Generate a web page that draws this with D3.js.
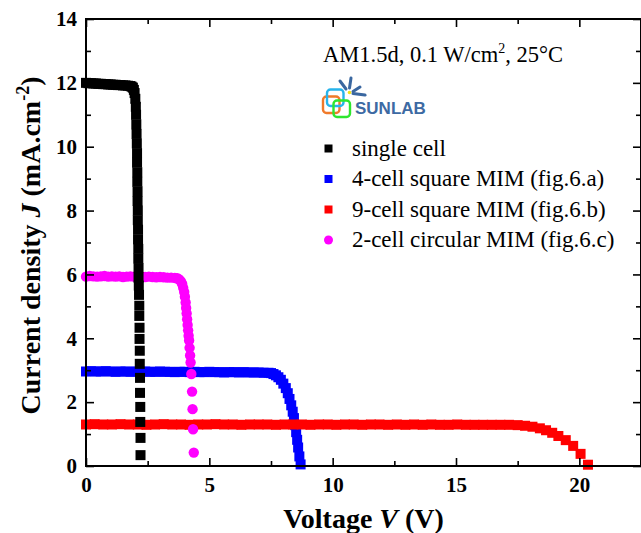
<!DOCTYPE html>
<html>
<head>
<meta charset="utf-8">
<script src="https://cdn.jsdelivr.net/npm/d3@7"></script>
<style>
  html, body { margin: 0; padding: 0; background: #fff; overflow: hidden; }
  .tick line { stroke: #000; stroke-width: 1.6; }
  .domain { display: none; }
</style>
</head>
<body>
<div id="chart"></div>
<script>
// axis ticks
const xMajor = [0, 5, 10, 15, 20];
const xMinor = [2.5, 7.5, 12.5, 17.5];
const yMajor = [0, 2, 4, 6, 8, 10, 12, 14];
const yMinor = [1, 3, 5, 7, 9, 11, 13];

// single cell (black squares)
const singleV = [0, 0.1, 0.2, 0.3, 0.4, 0.5, 0.6, 0.7, 0.8, 0.9, 1.0, 1.1, 1.2, 1.3, 1.4, 1.5, 1.6, 1.7, 1.8,
    1.85, 1.9, 1.94, 1.97, 2.0, 2.02, 2.03, 2.04, 2.05, 2.06, 2.07, 2.07, 2.08, 2.08, 2.09, 2.09, 2.1, 2.1, 2.11, 2.11,
    2.12, 2.12, 2.13, 2.13, 2.14,
    2.15, 2.16, 2.16, 2.17, 2.17, 2.18, 2.18, 2.19, 2.19, 2.2, 2.2, 2.21, 2.21];
const singleJ = [12.0, 11.99, 11.99, 11.98, 11.98, 11.97, 11.97, 11.96, 11.96, 11.95, 11.95, 11.94, 11.94, 11.93, 11.93, 11.92, 11.92, 11.91, 11.9,
    11.88, 11.85, 11.78, 11.68, 11.5, 11.25, 11.0, 10.7, 10.4, 10.1, 9.8, 9.5, 9.2, 8.9, 8.6, 8.3, 8.0, 7.7, 7.4, 7.1,
    6.8, 6.5, 6.2, 5.9, 5.65,
    5.36, 5.02, 4.7, 4.33, 3.98, 3.61, 3.2, 2.76, 2.29, 1.85, 1.38, 0.88, 0.34];

// 4-cell square MIM (blue squares)
const sq4V = [0, 0.2, 0.4, 0.6, 0.8, 1.0, 1.2, 1.4, 1.6, 1.8, 2.0, 2.2, 2.4, 2.6, 2.8, 3.0, 3.2, 3.4, 3.6,
    3.8, 4.0, 4.2, 4.4, 4.6, 4.8, 5.0, 5.2, 5.4, 5.6, 5.8, 6.0, 6.2, 6.4, 6.6, 6.8, 7.0, 7.2, 7.4,
    7.5, 7.6, 7.7, 7.8, 7.9, 8.0, 8.1, 8.18, 8.25, 8.32, 8.38, 8.43, 8.48, 8.52, 8.56, 8.6, 8.65, 8.7];
const sq4J = [2.96, 2.97, 2.96, 2.96, 2.97, 2.96, 2.95, 2.96, 2.96, 2.95, 2.96, 2.95, 2.96, 2.95, 2.95, 2.96, 2.95, 2.95, 2.94,
    2.95, 2.95, 2.94, 2.95, 2.94, 2.94, 2.95, 2.94, 2.94, 2.93, 2.94, 2.94, 2.93, 2.94, 2.93, 2.93, 2.93, 2.92, 2.92,
    2.91, 2.88, 2.84, 2.78, 2.7, 2.58, 2.44, 2.28, 2.1, 1.9, 1.7, 1.5, 1.28, 1.06, 0.82, 0.58, 0.3, 0.05];

// 9-cell square MIM (red squares)
const sq9V = [0, 0.35, 0.7, 1.05, 1.4, 1.75, 2.1, 2.45, 2.8, 3.15, 3.5, 3.85, 4.2, 4.55, 4.9, 5.25, 5.6, 5.95,
    6.3, 6.65, 7.0, 7.35, 7.7, 8.05, 8.4, 8.75, 9.1, 9.45, 9.8, 10.15, 10.5, 10.85, 11.2, 11.55, 11.9, 12.25,
    12.6, 12.95, 13.3, 13.65, 14.0, 14.35, 14.7, 15.05, 15.4, 15.75, 16.1, 16.45, 16.8,
    17.15, 17.5, 17.8, 18.1, 18.4, 18.65, 18.9, 19.15, 19.45, 19.75, 20.05, 20.35];
const sq9J = [1.3, 1.31, 1.3, 1.3, 1.31, 1.3, 1.3, 1.29, 1.3, 1.31, 1.3, 1.3, 1.29, 1.3, 1.3, 1.31, 1.3, 1.3,
    1.29, 1.3, 1.3, 1.3, 1.29, 1.3, 1.3, 1.3, 1.29, 1.3, 1.3, 1.29, 1.3, 1.3, 1.29, 1.3, 1.3, 1.29,
    1.3, 1.29, 1.3, 1.29, 1.3, 1.29, 1.29, 1.3, 1.29, 1.29, 1.29, 1.29, 1.29,
    1.29, 1.28, 1.26, 1.23, 1.18, 1.12, 1.04, 0.94, 0.81, 0.63, 0.38, 0.04];

// 2-cell circular MIM (magenta circles)
const circV = [0, 0.15, 0.3, 0.45, 0.6, 0.75, 0.9, 1.05, 1.2, 1.35, 1.5, 1.65, 1.8, 1.95, 2.1, 2.25, 2.4, 2.55,
    2.7, 2.85, 3.0, 3.15, 3.3, 3.45, 3.6,
    3.7, 3.78, 3.85, 3.9, 3.94, 3.98, 4.01, 4.04, 4.06, 4.08, 4.1, 4.12, 4.14, 4.16, 4.18, 4.2, 4.22, 4.24,
    4.27, 4.3, 4.32, 4.34, 4.37];
const circJ = [5.93, 5.95, 5.94, 5.93, 5.94, 5.95, 5.93, 5.94, 5.93, 5.94, 5.92, 5.93, 5.94, 5.93, 5.92, 5.93, 5.92, 5.93,
    5.92, 5.91, 5.92, 5.91, 5.9, 5.9, 5.89,
    5.88, 5.84, 5.78, 5.7, 5.58, 5.45, 5.3, 5.12, 4.95, 4.78, 4.6, 4.42, 4.25, 4.08, 3.93, 3.7, 3.46, 3.24,
    2.88, 2.33, 1.78, 1.15, 0.42];

// legend
const legendLabels = ['single cell', '4-cell square MIM (fig.6.a)', '9-cell square MIM (fig.6.b)', '2-cell circular MIM (fig.6.c)'];
const legendColors = ['#000000', '#0000ff', '#ff0000', '#ff00ff'];
const legendShapes = ['square', 'square', 'square', 'circle'];

const width = 641;
const height = 533;
const plot = { left: 86, top: 19, right: 641, bottom: 466 };
const serif = '"Liberation Serif", "Times New Roman", serif';

const svg = d3.select('#chart').append('svg')
    .attr('width', width)
    .attr('height', height);

const xScale = d3.scaleLinear().domain([0, 22.5]).range([plot.left, plot.right]);
const yScale = d3.scaleLinear().domain([0, 14]).range([plot.bottom, plot.top]);

// series, drawn back to front
const zip = (vs, js) => vs.map((v, i) => ({ v: v, j: js[i] }));
const sqSize = 10;

function drawSquares(data, color) {
    svg.append('g').selectAll('rect')
        .data(data)
        .enter()
        .append('rect')
        .attr('x', dp => xScale(dp.v) - sqSize / 2)
        .attr('y', dp => yScale(dp.j) - sqSize / 2)
        .attr('width', sqSize)
        .attr('height', sqSize)
        .attr('fill', color);
}

drawSquares(zip(sq4V, sq4J), '#0000ff');
drawSquares(zip(sq9V, sq9J), '#ff0000');

svg.append('g').selectAll('circle')
    .data(zip(circV, circJ))
    .enter()
    .append('circle')
    .attr('cx', dp => xScale(dp.v))
    .attr('cy', dp => yScale(dp.j))
    .attr('r', 5.2)
    .attr('fill', '#ff00ff');

drawSquares(zip(singleV, singleJ), '#000000');

// axes: ticks point inward on all four sides
function styleTicks(g) {
    g.selectAll('.tick text')
        .style('font-family', serif)
        .style('font-weight', 'bold')
        .style('font-size', '21px')
        .style('fill', '#000');
}

svg.append('g')
    .attr('transform', `translate(0, ${plot.bottom})`)
    .call(d3.axisBottom(xScale).tickValues(xMajor).tickSizeInner(-8).tickSizeOuter(0).tickPadding(11))
    .call(styleTicks);
svg.append('g')
    .attr('transform', `translate(0, ${plot.bottom})`)
    .call(d3.axisBottom(xScale).tickValues(xMinor).tickSizeInner(-5).tickSizeOuter(0).tickFormat(''));
svg.append('g')
    .attr('transform', `translate(0, ${plot.top})`)
    .call(d3.axisTop(xScale).tickValues(xMajor).tickSizeInner(-8).tickSizeOuter(0).tickFormat(''));
svg.append('g')
    .attr('transform', `translate(0, ${plot.top})`)
    .call(d3.axisTop(xScale).tickValues(xMinor).tickSizeInner(-5).tickSizeOuter(0).tickFormat(''));

svg.append('g')
    .attr('transform', `translate(${plot.left}, 0)`)
    .call(d3.axisLeft(yScale).tickValues(yMajor).tickSizeInner(-8).tickSizeOuter(0).tickPadding(9))
    .call(styleTicks);
svg.append('g')
    .attr('transform', `translate(${plot.left}, 0)`)
    .call(d3.axisLeft(yScale).tickValues(yMinor).tickSizeInner(-5).tickSizeOuter(0).tickFormat(''));
svg.append('g')
    .attr('transform', `translate(${plot.right}, 0)`)
    .call(d3.axisRight(yScale).tickValues(yMajor).tickSizeInner(-8).tickSizeOuter(0).tickFormat(''));
svg.append('g')
    .attr('transform', `translate(${plot.right}, 0)`)
    .call(d3.axisRight(yScale).tickValues(yMinor).tickSizeInner(-5).tickSizeOuter(0).tickFormat(''));

svg.append('rect')
    .attr('x', plot.left)
    .attr('y', plot.top)
    .attr('width', plot.right - plot.left)
    .attr('height', plot.bottom - plot.top)
    .attr('fill', 'none')
    .attr('stroke', '#000')
    .attr('stroke-width', 2);

// axis titles
const xTitle = svg.append('text')
    .attr('x', (plot.left + plot.right) / 2)
    .attr('y', 528)
    .attr('text-anchor', 'middle')
    .style('font-family', serif)
    .style('font-weight', 'bold')
    .style('font-size', '28px');
xTitle.append('tspan').text('Voltage ');
xTitle.append('tspan').style('font-style', 'italic').text('V');
xTitle.append('tspan').text(' (V)');

const yTitle = svg.append('text')
    .attr('transform', `translate(40, ${(plot.top + plot.bottom) / 2 + 3}) rotate(-90)`)
    .attr('text-anchor', 'middle')
    .style('font-family', serif)
    .style('font-weight', 'bold')
    .style('font-size', '28px');
yTitle.append('tspan').text('Current density ');
yTitle.append('tspan').style('font-style', 'italic').text('J');
yTitle.append('tspan').text(' (mA.cm');
yTitle.append('tspan').attr('dy', -11).style('font-size', '18px').text('-2');
yTitle.append('tspan').attr('dy', 11).text(')');

// conditions note
const note = svg.append('text')
    .attr('x', 323)
    .attr('y', 62)
    .style('font-family', serif)
    .style('font-size', '22.5px');
note.append('tspan').text('AM1.5d, 0.1 W/cm');
note.append('tspan').attr('dy', -9).style('font-size', '14px').text('2');
note.append('tspan').attr('dy', 9).text(', 25°C');

// SUNLAB logo
const logo = svg.append('g');
[[340, 81, 346, 89], [351, 78, 349.5, 88], [353, 91.5, 360, 87], [353, 93.5, 365, 95]].forEach(r => {
    logo.append('line')
        .attr('x1', r[0]).attr('y1', r[1]).attr('x2', r[2]).attr('y2', r[3])
        .attr('stroke', '#3a67a0').attr('stroke-width', 3).attr('stroke-linecap', 'round');
});
logo.append('circle').attr('cx', 349.5).attr('cy', 92.5).attr('r', 1.8).attr('fill', '#f2e21a');
[[323, 96.5, '#f07a2a'], [327, 89.5, '#27b4ec'], [333.5, 100.5, '#2ee62e']].forEach(s => {
    logo.append('rect')
        .attr('x', s[0]).attr('y', s[1]).attr('width', 16.5).attr('height', 16.5)
        .attr('rx', 3.5)
        .attr('fill', 'none').attr('stroke', s[2]).attr('stroke-width', 2.4);
});
logo.append('text')
    .attr('x', 355)
    .attr('y', 113.5)
    .style('font-family', '"Liberation Sans", Arial, sans-serif')
    .style('font-weight', 'bold')
    .style('font-size', '17px')
    .style('fill', '#3d6aa3')
    .text('SUNLAB');

// legend
const legend = svg.append('g');
legendLabels.forEach((label, i) => {
    const cy = 148.5 + i * 30.5;
    if (legendShapes[i] === 'circle') {
        legend.append('circle').attr('cx', 328.5).attr('cy', cy).attr('r', 4.5).attr('fill', legendColors[i]);
    } else {
        legend.append('rect').attr('x', 324.5).attr('y', cy - 4).attr('width', 8).attr('height', 8).attr('fill', legendColors[i]);
    }
    legend.append('text')
        .attr('x', 352)
        .attr('y', cy + 7)
        .style('font-family', serif)
        .style('font-size', '23px')
        .text(label);
});
</script>
</body>
</html>
